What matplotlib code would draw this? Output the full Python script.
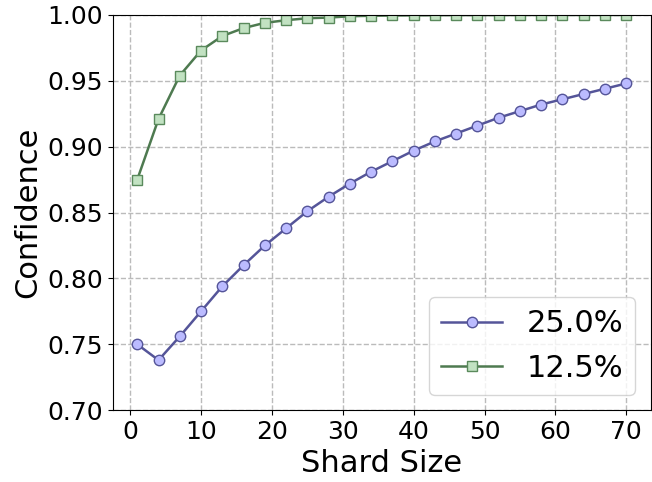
import matplotlib
matplotlib.use("Agg")
import matplotlib.pyplot as plt

shard_size = [1, 4, 7, 10, 13, 16, 19, 22, 25, 28, 31, 34,
              37, 40, 43, 46, 49, 52, 55, 58, 61, 64, 67, 70]

conf_25 = [0.750, 0.738, 0.756, 0.775, 0.794, 0.810, 0.825, 0.838,
           0.851, 0.862, 0.872, 0.881, 0.889, 0.897, 0.904, 0.910,
           0.916, 0.922, 0.927, 0.932, 0.936, 0.940, 0.944, 0.948]

conf_12 = [0.875, 0.921, 0.954, 0.973, 0.984, 0.990, 0.994, 0.996,
           0.9975, 0.998, 0.999, 0.9994, 0.9996, 0.9997, 0.9998, 0.9999,
           0.9999, 0.9999, 1.0, 1.0, 1.0, 1.0, 1.0, 1.0]

labels = ["25.0%", "12.5%"]

fig, ax = plt.subplots(figsize=(6.52, 4.82), dpi=100)
fig.subplots_adjust(left=0.173, right=0.998, top=0.969, bottom=0.149)

ax.plot(shard_size, conf_25, marker="o", color="#555599", markerfacecolor="#bbbbff",
        markeredgecolor="#555599", markersize=7.5, linewidth=1.8, label=labels[0])
ax.plot(shard_size, conf_12, marker="s", color="#4e7a50", markerfacecolor="#c2e2c2",
        markeredgecolor="#5a8a5c", markersize=7.5, linewidth=1.8, label=labels[1])

ax.set_ylim(0.70, 1.00)
ax.set_xticks([0, 10, 20, 30, 40, 50, 60, 70])
ax.grid(True, linestyle="--", color="#bbbbbb", linewidth=1)
ax.set_axisbelow(True)
ax.tick_params(labelsize=18)
ax.set_xlabel("Shard Size", fontsize=22)
ax.set_ylabel("Confidence", fontsize=22)

ax.legend(loc="lower right", fontsize=22, handlelength=2.0)

plt.savefig("out.png", dpi=100)
